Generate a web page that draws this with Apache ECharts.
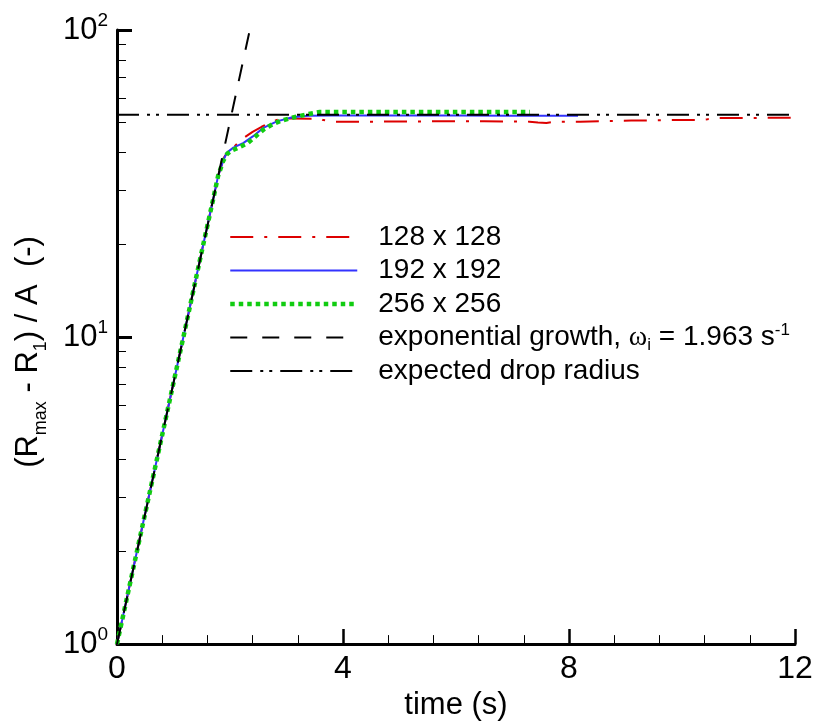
<!DOCTYPE html>
<html><head><meta charset="utf-8">
<script src="https://cdn.jsdelivr.net/npm/echarts@6/dist/echarts.min.js"></script>
<style>html,body{margin:0;padding:0;background:#fff}#c{width:816px;height:726px}</style>
</head><body><div id="c"></div>
<script>
// ---- data ----
const legendNames = ['128 x 128', '192 x 192', '256 x 256', 'exponential growth, \u03c9i = 1.963 s-1', 'expected drop radius'];
const xTicks = [0, 4, 8, 12];
const yMinorTicks = [2, 3, 4, 5, 6, 7, 8, 9, 20, 30, 40, 50, 60, 70, 80, 90];

const t128 = [0, 0.4, 0.8, 1.2, 1.5, 1.7, 1.8, 1.9, 1.97, 2.06, 2.15, 2.25, 2.4, 2.56, 2.7, 2.88, 3.1, 3.42, 3.59, 3.65, 3.83, 4.5, 5.5, 6.5, 7.3, 7.45, 7.6, 7.75, 8.2, 9.1, 9.9, 10.3, 10.45, 10.65, 11.2, 12];
const v128 = [1, 2.2, 4.8, 10.5, 19, 28, 34, 38.6, 40.2, 41.5, 43, 44.6, 46.6, 48.4, 49.8, 51.4, 51.5, 51.4, 51.6, 50.9, 50.3, 50.3, 50.4, 50.4, 50.3, 50.0, 49.8, 50.3, 50.3, 50.7, 50.9, 50.9, 51.2, 51.7, 51.7, 51.8];

const t192 = [0, 0.4, 0.8, 1.2, 1.5, 1.7, 1.79, 1.88, 1.94, 2.06, 2.24, 2.41, 2.59, 2.83, 3.12, 3.4, 3.8, 5, 6, 7, 8.16];
const v192 = [1, 2.2, 4.8, 10.5, 19, 28, 33.5, 37.5, 39.8, 41.4, 42.9, 45.1, 48.0, 50.4, 52.1, 52.6, 52.7, 52.7, 52.7, 52.6, 52.6];

const t256 = [0, 0.4, 0.8, 1.2, 1.5, 1.7, 1.79, 1.88, 1.95, 2.03, 2.15, 2.32, 2.45, 2.6, 2.75, 2.9, 3.1, 3.36, 3.59, 4.5, 5.5, 6.5, 7.31];
const v256 = [1, 2.2, 4.8, 10.5, 19, 28, 33.5, 37.5, 39.5, 40.5, 41.4, 42.9, 45, 47.5, 49.3, 50.6, 51.8, 53.1, 54.1, 54.1, 54.1, 54.1, 54.1];

const tExp = [0, 2.35];
const vExp = [1, 100];

const tDrop = [0, 12];
const vDrop = [53, 53];

const FONT = '"Liberation Sans", Arial, Helvetica, sans-serif';
const pairs = (xs, ys) => xs.map((x, i) => [x, ys[i]]);

const chart = echarts.init(document.getElementById('c'), null, {renderer: 'canvas'});
const mk = (name, xs, ys, color, width, type, z) => ({
  name, type: 'line', data: pairs(xs, ys), showSymbol: false, symbol: 'none',
  lineStyle: {color, width, type}, itemStyle: {color}, z, silent: true
});

chart.setOption({
  animation: false,
  backgroundColor: '#fff',
  grid: {left: 117, right: 21, top: 30, bottom: 79, containLabel: false},
  xAxis: {
    type: 'value', min: 0, max: 12, interval: 4,
    axisLine: {show: true, lineStyle: {color: '#000', width: 3}},
    axisTick: {show: true, inside: true, length: 15, lineStyle: {color: '#000', width: 2.5}},
    minorTick: {show: true, splitNumber: 5, length: 9, lineStyle: {color: '#000', width: 1}},
    splitLine: {show: false}, minorSplitLine: {show: false},
    axisLabel: {color: '#000', fontSize: 32, fontFamily: FONT, margin: 9,
      customValues: xTicks},
    name: 'time (s)', nameLocation: 'middle', nameGap: 42,
    nameTextStyle: {color: '#000', fontSize: 31, fontFamily: FONT}
  },
  yAxis: [{
    type: 'log', logBase: 10, min: 1, max: 100,
    axisLine: {show: true, lineStyle: {color: '#000', width: 3}},
    axisTick: {show: true, inside: true, length: 15, lineStyle: {color: '#000', width: 3}},
    splitLine: {show: false},
    axisLabel: {
      margin: 9,
      formatter: v => '{b|10}{p|' + Math.round(Math.log10(v)) + '}',
      rich: {
        b: {fontSize: 31, fontFamily: FONT, color: '#000', lineHeight: 38, verticalAlign: 'middle'},
        p: {fontSize: 19, fontFamily: FONT, color: '#000', lineHeight: 19, verticalAlign: 'top'}
      }
    }
  }, {
    type: 'log', logBase: 10, min: 1, max: 100, position: 'left',
    axisLine: {show: false}, splitLine: {show: false},
    axisLabel: {show: false},
    axisTick: {show: true, inside: true, length: 9, lineStyle: {color: '#000', width: 1},
      customValues: yMinorTicks}
  }],
  legend: {
    orient: 'vertical', left: 228, top: 221, padding: 0, itemWidth: 127, itemHeight: 14, itemGap: 1.5,
    selectedMode: false, data: legendNames,
    itemStyle: {opacity: 0, borderWidth: 0},
    lineStyle: {width: 'inherit'},
    formatter: name => name === legendNames[3]
      ? 'exponential growth, {w|\u03c9}{sub|i} = 1.963 s{sup|-1}' : name,
    textStyle: {
      color: '#000', fontSize: 28, fontFamily: FONT, lineHeight: 32, padding: [0, 0, 0, 16],
      rich: {
        w: {fontSize: 28, fontFamily: '"Liberation Serif", "DejaVu Serif", serif', color: '#000', lineHeight: 32},
        sub: {fontSize: 17, fontFamily: FONT, color: '#000', lineHeight: 17, verticalAlign: 'bottom'},
        sup: {fontSize: 17, fontFamily: FONT, color: '#000', lineHeight: 17, verticalAlign: 'top'}
      }
    }
  },
  graphic: [{
    type: 'text', x: 28, y: 352, rotation: Math.PI / 2,
    style: {
      text: '{n|(R}{s|max}{n| - R}{s|1}{n|) / A  (-)}',
      align: 'center', verticalAlign: 'middle',
      fontSize: 31, fontFamily: FONT, fill: '#000',
      rich: {
        n: {fontSize: 31, fontFamily: FONT, fill: '#000', lineHeight: 44, verticalAlign: 'middle'},
        s: {fontSize: 18, fontFamily: FONT, fill: '#000', lineHeight: 18, verticalAlign: 'bottom'}
      }
    }
  }],
  series: [
    mk(legendNames[0], t128, v128, '#dd0000', 2, [23, 11, 3, 11], 3),
    mk(legendNames[1], t192, v192, '#3333ff', 2, 'solid', 4),
    mk(legendNames[2], t256, v256, '#11cc11', 4.5, [4.5, 4], 5),
    mk(legendNames[3], tExp, vExp, '#000000', 2, [17, 15], 6),
    mk(legendNames[4], tDrop, vDrop, '#000000', 2, [22, 8, 3, 6, 3, 8], 6)
  ]
});
</script></body></html>
